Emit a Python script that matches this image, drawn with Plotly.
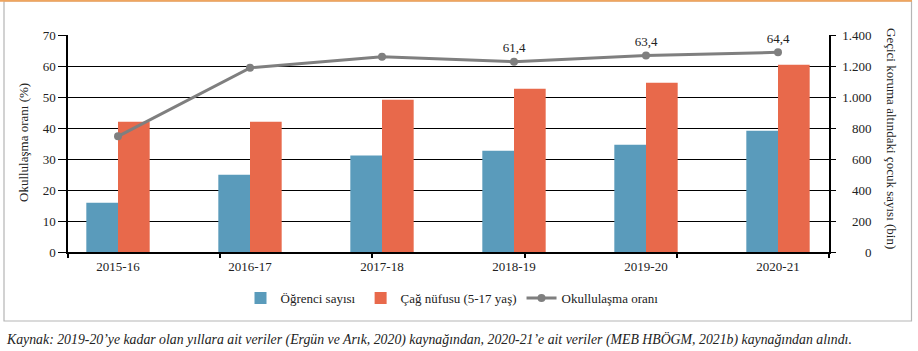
import plotly.graph_objects as go

# ---- data ----
years = ["2015-16", "2016-17", "2017-18", "2018-19", "2019-20", "2020-21"]
ogrenci = [318, 498, 622, 654, 692, 782]          # bin (right axis)
cag_nufusu = [840, 840, 982, 1054, 1092, 1208]    # bin (right axis)
oran = [37.3, 59.4, 63.0, 61.4, 63.4, 64.4]        # % (left axis)
oran_labeled = [False, False, False, True, True, True]
left_ticks = [0, 10, 20, 30, 40, 50, 60, 70]
right_ticks = [0, 200, 400, 600, 800, 1000, 1200, 1400]

names = ["Öğrenci sayısı", "Çağ nüfusu (5-17 yaş)", "Okullulaşma oranı"]
ytitle_left = "Okullulaşma oranı (%)"
ytitle_right = "Geçici koruma altındaki çocuk sayısı (bin)"
caption = ("Kaynak: 2019-20’ye kadar olan yıllara ait veriler (Ergün ve Arık, 2020) kaynağından, "
           "2020-21’e ait veriler (MEB HBÖGM, 2021b) kaynağından alındı.")

BLUE = "#5A9BBB"
ORANGE = "#E8694B"
GREY = "#7F7F7F"
FONT = "Liberation Serif"


def tr_thousands(v):
    return f"{v:,}".replace(",", ".")


def units(s):
    # width units: digit = 2, period/nbsp = 1
    return sum(2 if c.isdigit() else 1 for c in s)


rt_text = [tr_thousands(v) for v in right_ticks]
maxu = max(units(s) for s in rt_text)
rt_text = ["\u00a0" * (maxu - units(s)) + s for s in rt_text]

labels = [f"{v:.1f}".replace(".", ",") if show else "" for v, show in zip(oran, oran_labeled)]

fig = go.Figure()
# bars on the base (right-side) axis, line on the overlaying (left-side) axis so it is drawn on top
fig.add_trace(go.Bar(x=years, y=ogrenci, name=names[0], marker_color=BLUE,
                     marker_line_width=0, yaxis="y"))
fig.add_trace(go.Bar(x=years, y=cag_nufusu, name=names[1], marker_color=ORANGE,
                     marker_line_width=0, yaxis="y"))
fig.add_trace(go.Scatter(x=years, y=oran, name=names[2], mode="lines+markers+text",
                         line=dict(color=GREY, width=3),
                         marker=dict(color=GREY, size=8),
                         text=labels, textposition="top center",
                         textfont=dict(family=FONT, size=13, color="#222"),
                         yaxis="y2"))
# invisible helper trace so the tick-mark overlay axis exists
fig.add_trace(go.Scatter(x=[0], y=[0], xaxis="x3", yaxis="y", mode="markers",
                         marker=dict(opacity=0), showlegend=False, hoverinfo="skip"))

L, R, T, B = 68, 89, 35, 99
W, H = 918, 351
pw = W - L - R
ph = H - T - B
cat_px0 = 118   # pixel centre of first category
cat_step = 132  # pixels between category centres


def px2x(px):
    return (px - cat_px0) / cat_step


def pxx(px):
    return (px - L) / pw


def pxy(py):
    return (H - B - py) / ph


fig.update_layout(
    width=W, height=H,
    margin=dict(l=L, r=R, t=T, b=B, pad=0),
    paper_bgcolor="white", plot_bgcolor="white",
    barmode="group", bargap=0.52, bargroupgap=0,
    font=dict(family=FONT, size=13, color="#222"),
    xaxis=dict(type="category", range=[px2x(L), px2x(W - R)],
               showline=True, linecolor="black", linewidth=1.5,
               ticks="", showgrid=False, tickfont=dict(size=13),
               ticklabelstandoff=2),
    xaxis3=dict(overlaying="x", range=[0, len(years) - 1], dtick=1,
                showticklabels=False, ticks="outside", ticklen=5, tickcolor="black",
                tickwidth=1.5, showgrid=False, showline=False, anchor="y", zeroline=False),
    yaxis=dict(range=[0, 1400], tickvals=right_ticks, ticktext=rt_text, side="right",
               showgrid=True, gridcolor="black", gridwidth=1,
               showline=True, linecolor="black", linewidth=1.5,
               ticks="outside", ticklen=5, tickcolor="black", zeroline=False,
               tickfont=dict(size=13), ticklabelstandoff=4),
    yaxis2=dict(range=[0, 70], tickvals=left_ticks, overlaying="y", side="left",
                showgrid=False, showline=True, linecolor="black", linewidth=1.5,
                ticks="outside", ticklen=8, tickcolor="black", zeroline=False,
                tickfont=dict(size=13)),
    legend=dict(orientation="h", x=pxx(452), xanchor="center", y=pxy(298), yanchor="middle",
                font=dict(size=13), itemwidth=30, tracegroupgap=0, traceorder="normal"),
    showlegend=True,
)

fig.add_annotation(text=ytitle_left, textangle=-90, xref="paper", yref="paper",
                   x=pxx(23), y=pxy(143), showarrow=False, font=dict(size=13),
                   xanchor="center", yanchor="middle")
fig.add_annotation(text=ytitle_right, textangle=90, xref="paper", yref="paper",
                   x=pxx(892), y=pxy(138), showarrow=False, font=dict(size=13),
                   xanchor="center", yanchor="middle")
fig.add_annotation(text="<i>" + caption + "</i>", xref="paper", yref="paper",
                   x=pxx(4), y=pxy(339), xanchor="left", yanchor="middle", showarrow=False,
                   font=dict(family="Liberation Sans Narrow", size=13.8, color="#222"))

# frame
fig.add_shape(type="rect", xref="paper", yref="paper",
              x0=pxx(4), x1=pxx(911.5), y0=pxy(321), y1=pxy(1),
              line=dict(color="#B5B5B5", width=1.2), layer="below")
fig.add_shape(type="line", xref="paper", yref="paper",
              x0=pxx(0), x1=pxx(912), y0=pxy(0.8), y1=pxy(0.8),
              line=dict(color="#EFA55F", width=1.8))

fig.write_html("out.html")
